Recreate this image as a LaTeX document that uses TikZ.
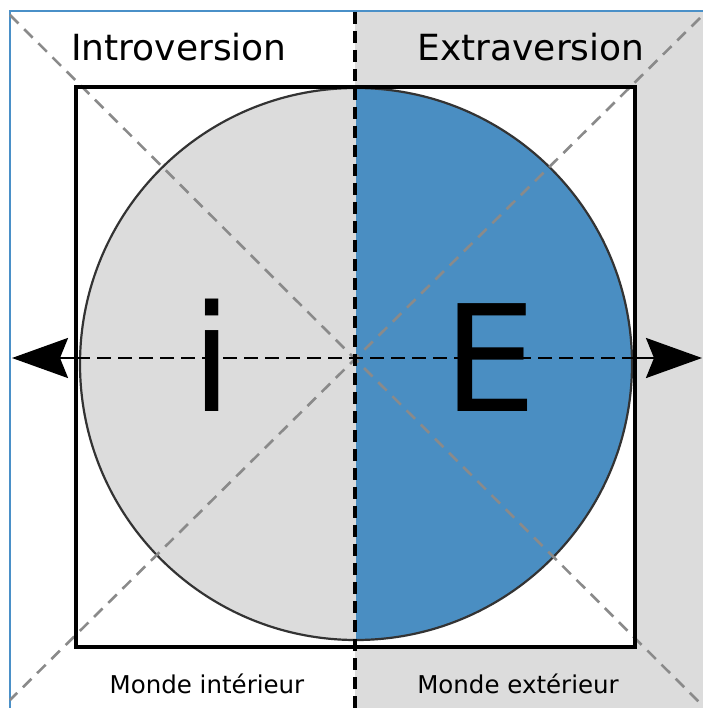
\documentclass[tikz,border=0pt]{standalone}
\usepackage{fontspec}
\setmainfont{DejaVu Sans}
\usetikzlibrary{arrows.meta}
\definecolor{lgray}{HTML}{DCDCDC}
\definecolor{eblue}{HTML}{4A8EC2}
\definecolor{frameblue}{HTML}{4A90C8}
\definecolor{dgray}{HTML}{8A8A8A}
\tikzset{
  vdash/.style={line width=3.5pt, dash pattern=on 12pt off 7pt},
  hdash/.style={line width=2.2pt, dash pattern=on 14pt off 7pt},
  diag/.style={dgray, line width=2.6pt, dash pattern=on 12pt off 8pt},
  bigarrow/.style={line width=2.5pt, -{Stealth[length=56pt, width=40pt, inset=8pt]}},
  title/.style={font=\fontsize{36}{40}\selectfont, anchor=base},
  sub/.style={font=\fontsize{24.5}{28}\selectfont, anchor=base},
  letter/.style={font=\fontsize{148}{150}\selectfont, anchor=base}
}
\begin{document}
\begin{tikzpicture}[x=1pt,y=-1pt]
\useasboundingbox (0,0) rectangle (703,708);
\fill[white] (0,0) rectangle (703,708);
% right gray half
\fill[lgray] (355,11) rectangle (703,708);
% frame lines
\draw[frameblue, line width=2.5pt] (10,708) -- (10,11) -- (703,11);
% square interior
\fill[white] (76,87) rectangle (635,647);
% circle halves
\coordinate (c) at (356,364);
\fill[lgray] (356,88) arc[start angle=270, end angle=90, radius=276] -- cycle;
\fill[eblue] (356,88) arc[start angle=-90, end angle=90, radius=276] -- cycle;
\draw[black!80, line width=2.2pt] (c) circle[radius=276];
% diagonals
\coordinate (d1a) at (10,15);
\coordinate (d1b) at (700,703);
\coordinate (d2a) at (700,18);
\coordinate (d2b) at (10,700);
\draw[diag] (d1a) -- (d1b);
\draw[diag] (d2a) -- (d2b);
% square border
\draw[line width=3.6pt] (76,87) rectangle (635,647);
% axes
\coordinate (vt) at (355,12);
\coordinate (vb) at (355,708);
\draw[vdash] (vt) -- (vb);
\coordinate (hl) at (76,358);
\coordinate (hr) at (635,358);
\draw[hdash] (hl) -- (hr);
\coordinate (tl) at (12,358);
\coordinate (tr) at (702,358);
\draw[bigarrow] (hl) -- (tl);
\draw[bigarrow] (hr) -- (tr);
% texts
\node[title] (intro) at (179,61) {Introversion};
\node[title] (extra) at (531,61) {Extraversion};
\node[letter] (li) at (212,411) {i};
\node[letter] (le) at (490,411) {E};
\node[sub] (mi) at (207,693) {Monde intérieur};
\node[sub] (me) at (518,693) {Monde extérieur};
\end{tikzpicture}
\end{document}
